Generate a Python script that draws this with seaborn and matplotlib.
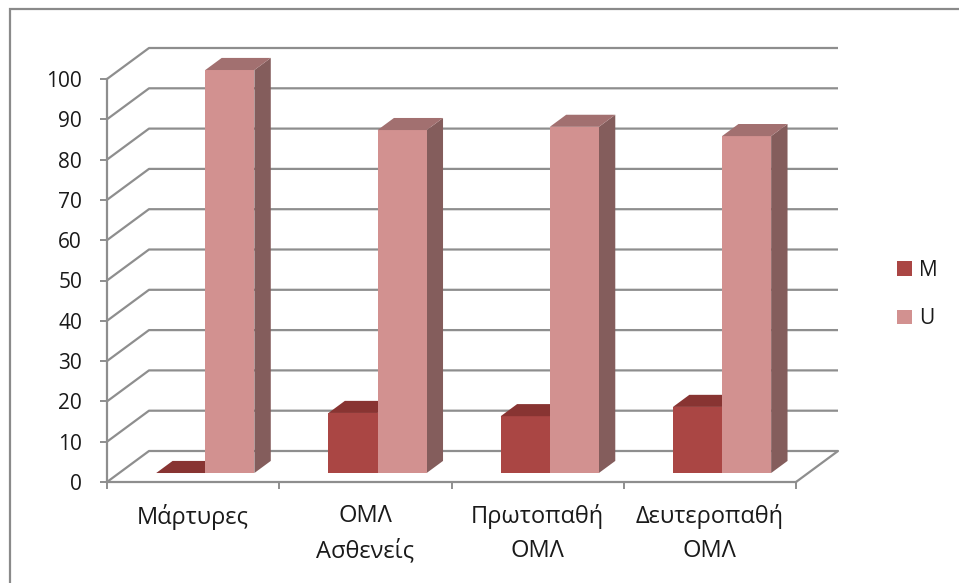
import matplotlib
matplotlib.use("Agg")
import matplotlib.pyplot as plt
import numpy as np
import pandas as pd
import seaborn as sns
from matplotlib.colors import to_hex
from matplotlib.patches import Polygon, Rectangle, Patch

# ---- data -------------------------------------------------------------
categories = ["Μάρτυρες", "ΟΜΛ\nΑσθενείς", "Πρωτοπαθή\nΟΜΛ", "Δευτεροπαθή\nΟΜΛ"]
series_names = ["M", "U"]
m_values = [0.0, 14.9, 14.1, 16.4]
u_values = [100.0, 85.1, 85.9, 83.6]
y_ticks = list(range(0, 101, 10))

# ---- style ------------------------------------------------------------
FRONT = {"M": "#AA4644", "U": "#D29190"}
TOP = {"M": "#883432", "U": "#A27070"}
SIDE = {"M": "#7C3331", "U": "#845D5C"}
GRID = "#8E8E8E"
TEXT = "#1A1A1A"
FS = 15
FS_X = 17

df = pd.DataFrame({
    "group": categories * 2,
    "series": [series_names[0]] * len(m_values) + [series_names[1]] * len(u_values),
    "value": m_values + u_values,
})

sns.set_theme(style="white")
plt.rcParams["font.family"] = ["Open Sans", "DejaVu Sans"]

W, H = 959, 583
fig = plt.figure(figsize=(W / 100, H / 100), dpi=100)
fig.patch.set_facecolor("white")
ax = fig.add_axes([107 / W, 101 / H, 689 / W, 403 / H])
ax.patch.set_alpha(0)

sns.barplot(data=df, x="group", y="value", hue="series", hue_order=series_names,
            palette=FRONT, width=0.57, saturation=1, errorbar=None,
            linewidth=0, legend=False, ax=ax)

ax.set_xlim(-0.5, len(categories) - 0.5)
ax.set_ylim(0, 100)

# oblique depth of the 3-D box, in data units
px_per_cat = 689 / len(categories)
px_per_val = 403 / 100
DX = 42 / px_per_cat
DY = 31 / px_per_val
F0 = 0.29   # depth position of the bar front faces
FB = 0.39   # bar depth

# back wall and left wall grid lines
x_left, x_right = -0.5, len(categories) - 0.5
for v in y_ticks:
    ax.plot([x_left, x_left + DX, x_right + DX], [v, v + DY, v + DY],
            color=GRID, lw=1.6, clip_on=False, zorder=1, solid_capstyle="butt")
# right edge of the floor
ax.plot([x_right, x_right + DX], [0, DY], color=GRID, lw=1.6, clip_on=False, zorder=1)

# give each bar a side and a top face
color_to_series = {to_hex(FRONT[s]): s for s in series_names}
for p in ax.patches:
    s = color_to_series.get(to_hex(p.get_facecolor()), "M")
    z = 3 if s == "M" else 4
    x0 = p.get_x() + F0 * DX
    y0 = F0 * DY
    w = p.get_width()
    h = p.get_height()
    p.set_x(x0)
    p.set_y(y0)
    p.set_zorder(z)
    p.set_clip_on(False)
    bdx, bdy = FB * DX, FB * DY
    side = Polygon([(x0 + w, y0), (x0 + w + bdx, y0 + bdy),
                    (x0 + w + bdx, y0 + h + bdy), (x0 + w, y0 + h)],
                   closed=True, facecolor=SIDE[s], edgecolor="none",
                   zorder=z - 0.1, clip_on=False)
    top = Polygon([(x0, y0 + h), (x0 + w, y0 + h),
                   (x0 + w + bdx, y0 + h + bdy), (x0 + bdx, y0 + h + bdy)],
                  closed=True, facecolor=TOP[s], edgecolor="none",
                  zorder=z, clip_on=False)
    ax.add_patch(side)
    ax.add_patch(top)

# axes, ticks and labels
for side_name in ["top", "right"]:
    ax.spines[side_name].set_visible(False)
for side_name in ["left", "bottom"]:
    ax.spines[side_name].set_color(GRID)
    ax.spines[side_name].set_linewidth(1.6)
    ax.spines[side_name].set_zorder(2)

ax.set_yticks(y_ticks)
ax.set_yticklabels([str(v) for v in y_ticks])
ax.tick_params(axis="y", direction="out", length=5, width=1.4, color=GRID,
               pad=13, labelsize=FS, labelcolor=TEXT, left=True)

ax.set_xticks(range(len(categories)))
ax.set_xticklabels(categories, linespacing=1.55)
ax.set_xticks(np.arange(-0.5, len(categories), 1.0), minor=True)
ax.tick_params(axis="x", which="major", length=0, pad=16, labelsize=FS_X, labelcolor=TEXT)
ax.tick_params(axis="x", which="minor", direction="out", length=5, width=1.4,
               color=GRID, bottom=True)
ax.set_xlabel("")
ax.set_ylabel("")
ax.grid(False)

# legend
handles = [Patch(facecolor=FRONT[s], edgecolor="none") for s in series_names]
fig.legend(handles, series_names, loc="upper left",
           bbox_to_anchor=(897 / W, (H - 260) / H), frameon=False,
           borderpad=0, borderaxespad=0, handlelength=0.7, handleheight=0.7,
           handletextpad=0.35, labelspacing=1.3, fontsize=FS,
           labelcolor=TEXT)

# chart area border
fig.add_artist(Rectangle((9.5 / W, -0.1), 1.2, (H - 9) / H + 0.1,
                         transform=fig.transFigure, fill=False,
                         edgecolor="#8A8A8A", lw=1.6))

fig.savefig("out.png", dpi=100, facecolor="white")
